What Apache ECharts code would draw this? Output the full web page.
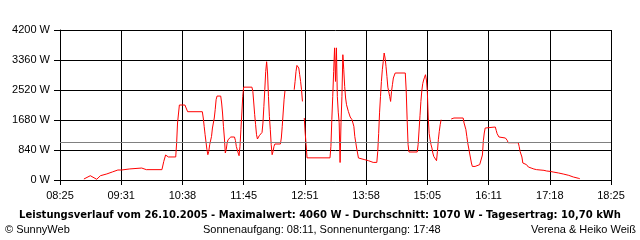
<!DOCTYPE html>
<html>
<head>
<meta charset="utf-8">
<script src="https://cdn.jsdelivr.net/npm/echarts@6/dist/echarts.min.js"></script>
<style>
html,body{margin:0;padding:0;background:#fff;}
#chart{width:640px;height:240px;}
</style>
</head>
<body>
<div id="chart"></div>
<script>
// ---- data ----
const times = [
 "08:51","08:58","09:00","09:05","09:09","09:16","09:22","09:28","09:32","09:41","09:43","09:54","09:59",
 "10:16","10:18","10:20","10:23","10:31","10:32","10:33","10:35","10:41","10:44",
 "11:00","11:01","11:02","11:03","11:05","11:06","11:07","11:08","11:10","11:11","11:13","11:14","11:15","11:16",
 "11:20","11:21","11:22","11:23","11:24","11:25","11:26","11:27","11:28","11:31","11:35","11:36","11:37","11:39",
 "11:40","11:41","11:42","11:43","11:44","11:45","11:54","11:55","11:56","11:57","11:58","11:59",
 "12:00","12:02","12:05","12:06","12:07","12:08","12:09","12:10","12:11","12:12","12:13","12:14","12:15","12:16",
 "12:17","12:18","12:19","12:25","12:26","12:27","12:28","12:29","12:30","12:31",
 "12:40","12:41","12:42","12:43","12:45","12:46","12:47","12:48","12:49","12:50",
 "12:51","12:52","12:53","12:54","13:19","13:20","13:21","13:22","13:23","13:24","13:25","13:26","13:27","13:28",
 "13:29","13:30","13:31","13:32","13:33","13:34","13:35","13:36","13:37","13:39","13:41","13:43","13:45","13:46",
 "13:48","13:50","13:52","13:57","14:01","14:06","14:10","14:11","14:12","14:13","14:14","14:15","14:16","14:17",
 "14:18","14:19","14:20","14:21","14:22","14:24","14:25","14:26","14:27","14:28","14:30","14:41","14:42","14:43",
 "14:44","14:45","14:54","14:55","14:56","14:57","14:58","14:59","15:00","15:01","15:02","15:03","15:04","15:05",
 "15:06","15:07","15:08","15:09","15:10","15:11","15:12","15:14","15:15","15:16","15:17","15:18","15:19","15:20","15:21",
 "15:31","15:34","15:44","15:45","15:47","15:48","15:49","15:50","15:51","15:52","15:53","15:54","15:57","15:59",
 "16:02","16:04","16:05","16:06","16:07","16:08","16:10","16:19","16:20","16:21","16:23","16:25","16:30","16:32",
 "16:33","16:44","16:45","16:46","16:48","16:49","16:50","16:53","16:55","16:58","17:01","17:04","17:12","17:15",
 "17:19","17:22","17:28","17:33","17:39","17:44","17:50","17:51"
];
const watts = [
 28,120,110,20,120,170,225,280,280,310,335,335,290,
 290,520,700,645,645,1036,1596,2100,2100,1912,
 1912,1736,1500,1268,850,708,800,990,1220,1456,1736,1970,2250,2350,
 2350,2156,1876,1500,1176,756,850,1036,1128,1204,1204,1110,940,756,
 680,940,1410,1876,2340,2600,2600,2480,2156,1828,1548,1268,
 1148,1240,1333,1596,2060,2528,3040,3312,2996,2340,1780,1410,990,708,
 800,940,1008,1008,1176,1500,1876,2250,2500,null,
 2528,2760,3040,3208,3136,2948,2760,2528,2200,null,
 1736,1316,990,620,620,940,1688,2340,3040,3700,2760,3700,2340,1900,
 1600,490,1600,2340,3508,3090,2620,2296,2108,1920,1764,1688,1500,1220,
 896,616,588,568,540,493,493,800,1300,1900,2340,2760,3090,3320,
 3556,3416,3180,2900,2600,2340,2200,2480,2668,2856,2996,2996,2500,1700,
 1000,784,784,1000,1400,1800,2200,2500,2700,2800,2880,2948,2800,2480,
 1736,1300,1128,990,896,756,660,708,540,800,1128,1360,1548,1688,null,
 1708,1736,1736,1596,1410,1220,1036,896,756,616,476,380,380,410,
 430,460,700,1100,1316,1456,1484,1484,1390,1296,1204,1176,1176,1110,
 1044,1044,940,800,644,476,430,430,364,336,308,290,270,252,
 240,224,196,168,130,84,45,36
];
const yTicks = [0, 840, 1680, 2520, 3360, 4200];
const xTickLabels = ["08:25","09:31","10:38","11:45","12:51","13:58","15:05","16:11","17:18","18:25"];
const averageW = 1070;
const startTime = "08:25";
const endTime = "18:25";
const titleText = "Leistungsverlauf vom 26.10.2005 - Maximalwert: 4060 W - Durchschnitt: 1070 W - Tagesertrag: 10,70 kWh";
const footLeft = "\u00A9 SunnyWeb";
const footMid = "Sonnenaufgang: 08:11, Sonnenuntergang: 17:48";
const footRight = "Verena & Heiko Wei\u00DF";

// ---- build ----
function toMin(t){ const p = t.split(":"); return (+p[0])*60 + (+p[1]); }
const t0 = toMin(startTime), t1 = toMin(endTime);
const SCALE = 3; // axis unit = 1/3 minute so tick interval is an integer
const span = (t1 - t0) * SCALE;
const step = span / (xTickLabels.length - 1);
const seriesData = times.map((t, i) => [(toMin(t) - t0) * SCALE, watts[i]]);

const FONT = "'Liberation Sans', Arial, sans-serif";
const chart = echarts.init(document.getElementById('chart'), null, {renderer: 'canvas'});
chart.setOption({
  animation: false,
  backgroundColor: '#ffffff',
  grid: {left: 60, right: 29, top: 30, height: 150, containLabel: false},
  xAxis: {
    type: 'value', min: 0, max: span, interval: step,
    axisLine: {show: true, lineStyle: {color: '#000', width: 1}},
    axisTick: {show: true, length: 5, lineStyle: {color: '#000'}},
    splitLine: {show: true, lineStyle: {color: '#000', width: 1}},
    axisLabel: {
      color: '#000', fontFamily: FONT, fontSize: 11, margin: 10,
      showMinLabel: true, showMaxLabel: true,
      formatter: v => xTickLabels[Math.round(v / step)] || ''
    }
  },
  yAxis: {
    type: 'value', min: yTicks[0], max: yTicks[yTicks.length - 1], interval: yTicks[1] - yTicks[0],
    axisLine: {show: true, lineStyle: {color: '#000', width: 1}},
    axisTick: {show: true, length: 6, lineStyle: {color: '#000'}},
    splitLine: {show: true, lineStyle: {color: '#000', width: 1}},
    axisLabel: {color: '#000', fontFamily: FONT, fontSize: 11, margin: 10, formatter: v => v + ' W'}
  },
  series: [{
    type: 'line', data: seriesData, showSymbol: false, symbol: 'none',
    connectNulls: false, silent: true,
    lineStyle: {color: '#ff0000', width: 1},
    markLine: {
      silent: true, symbol: 'none', label: {show: false},
      lineStyle: {color: '#808080', type: 'solid', width: 1},
      data: [{yAxis: averageW}],
      animation: false
    }
  }],
  graphic: [
    {type: 'text', left: 'center', top: 210, style: {text: titleText, font: "bold 10px 'DejaVu Sans', sans-serif", fill: '#000'}},
    {type: 'text', left: 5, top: 224, style: {text: footLeft, font: "11px " + FONT, fill: '#000'}},
    {type: 'text', left: 203, top: 224, style: {text: footMid, font: "11px " + FONT, fill: '#000'}},
    {type: 'text', right: 4, top: 224, style: {text: footRight, font: "11px " + FONT, fill: '#000'}}
  ]
});
</script>
</body>
</html>
